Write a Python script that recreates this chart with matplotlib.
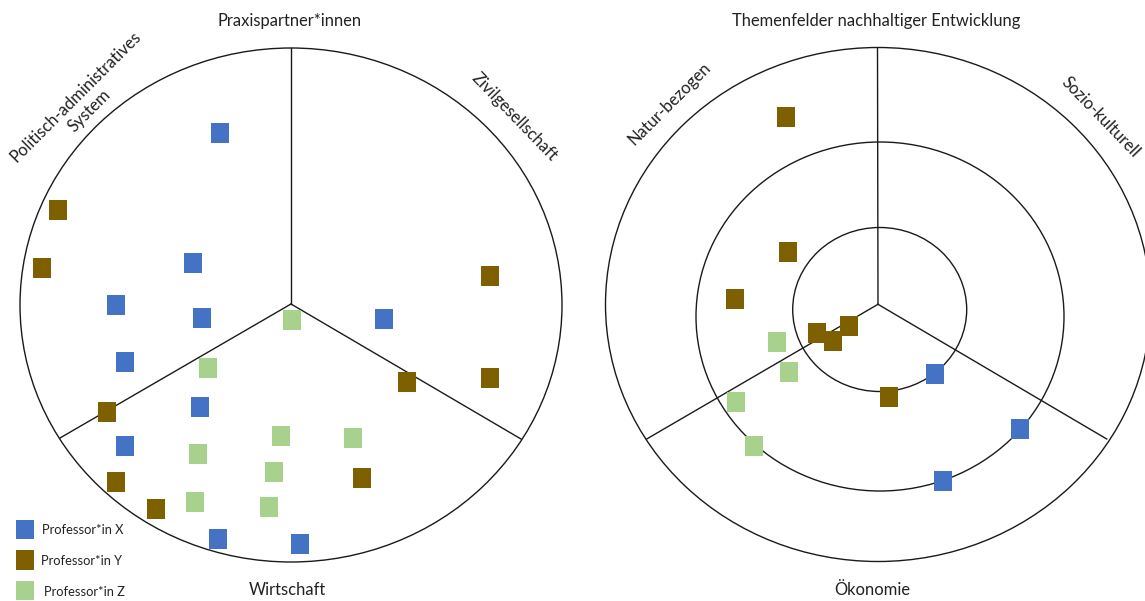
import matplotlib
matplotlib.use("Agg")
import matplotlib.pyplot as plt
from matplotlib.patches import Ellipse

# ---------------- data ----------------
professors = ["Professor*in X", "Professor*in Y", "Professor*in Z"]
colors = ["#4472C4", "#7F6000", "#A9D18E"]

# Left panel: Praxispartner*innen (positions of squares)
left_X_x = [220, 193, 116, 202, 384, 125, 200, 125, 218, 300]
left_X_y = [133, 263, 305, 318, 319, 362, 407, 446, 539, 544]
left_Y_x = [58, 42, 107, 116, 156, 407, 490, 490, 362]
left_Y_y = [210, 268, 412, 482, 509, 382, 276, 378, 478]
left_Z_x = [292, 208, 281, 353, 198, 274, 195, 269]
left_Z_y = [320, 368, 436, 438, 454, 472, 502, 507]

# Right panel: Themenfelder nachhaltiger Entwicklung
right_X_x = [935, 1020, 943]
right_X_y = [374, 429, 481]
right_Y_x = [786, 788, 735, 817, 849, 833, 889]
right_Y_y = [117, 252, 299, 333, 326, 341, 397]
right_Z_x = [777, 789, 736, 754]
right_Z_y = [342, 372, 402, 446]

left_labels = ["Praxispartner*innen", "Politisch-administratives\nSystem",
               "Zivilgesellschaft", "Wirtschaft"]
right_labels = ["Themenfelder nachhaltiger Entwicklung", "Natur-bezogen",
                "Sozio-kulturell", "Ökonomie"]

# ---------------- figure ----------------
W, H = 1145, 601
fig = plt.figure(figsize=(W / 100, H / 100), dpi=100)
ax = fig.add_axes([0, 0, 1, 1])
ax.set_xlim(0, W)
ax.set_ylim(H, 0)
ax.axis("off")

lc = "#1a1a1a"
lw = 1.0
font = "Lato"
tc = "#222222"

# Left panel geometry
ax.add_patch(Ellipse((291, 305), 542, 514, fill=False, ec=lc, lw=lw, zorder=1))
lcx, lcy = 291, 304
for ex, ey in [(291, 48), (60, 438), (521, 439)]:
    ax.plot([lcx, ex], [lcy, ey], color=lc, lw=lw, zorder=1)

# Right panel geometry
ax.add_patch(Ellipse((878, 304.5), 545, 514, fill=False, ec=lc, lw=lw, zorder=1))
ax.add_patch(Ellipse((880, 316.5), 368, 349, fill=False, ec=lc, lw=lw, zorder=1))
ax.add_patch(Ellipse((879.7, 309.5), 174, 164, fill=False, ec=lc, lw=lw, zorder=1))
rcx, rcy = 878, 304.3
for ex, ey in [(877.5, 47.7), (646.7, 439), (1106.7, 439)]:
    ax.plot([rcx, ex], [rcy, ey], color=lc, lw=lw, zorder=1)

# squares
rect = [(-0.455, -0.5), (0.455, -0.5), (0.455, 0.5), (-0.455, 0.5), (-0.455, -0.5)]
S = (19.3 * 72 / 100) ** 2
series = [
    (left_X_x, left_X_y, 0), (left_Y_x, left_Y_y, 1), (left_Z_x, left_Z_y, 2),
    (right_X_x, right_X_y, 0), (right_Y_x, right_Y_y, 1), (right_Z_x, right_Z_y, 2),
]
for xs, ys, k in series:
    ax.scatter(xs, ys, marker=rect, s=S, c=colors[k], linewidths=0, zorder=3)

# legend
leg_x = 25
leg_y = [529.5, 560, 590.5]
ax.scatter([leg_x] * 3, leg_y, marker=rect, s=S, c=colors, linewidths=0, zorder=3)
for i, (name, yy) in enumerate(zip(professors, leg_y)):
    ax.text([42, 41, 44][i], yy + 1, name, fontsize=9.3, family=font, color=tc,
            ha="left", va="center")

fs = 11.9
# left labels
ax.text(290, 21, left_labels[0], fontsize=fs, family=font, color=tc, ha="center", va="center")
ax.text(83, 104, left_labels[1], fontsize=fs, family=font, color=tc, ha="center",
        va="center", rotation=45, multialignment="center", linespacing=1.25,
        rotation_mode="anchor")
ax.text(514, 117, left_labels[2], fontsize=fs, family=font, color=tc, ha="center",
        va="center", rotation=-46, rotation_mode="anchor")
ax.text(287, 590, left_labels[3], fontsize=fs, family=font, color=tc, ha="center", va="center")

# right labels
ax.text(876, 21, right_labels[0], fontsize=fs, family=font, color=tc, ha="center", va="center")
ax.text(670, 104, right_labels[1], fontsize=fs, family=font, color=tc, ha="center",
        va="center", rotation=45, rotation_mode="anchor")
ax.text(1100.5, 117, right_labels[2], fontsize=fs, family=font, color=tc, ha="center",
        va="center", rotation=-46, rotation_mode="anchor")
ax.text(872.5, 590, right_labels[3], fontsize=fs, family=font, color=tc, ha="center", va="center")

fig.savefig("out.png", dpi=100)
